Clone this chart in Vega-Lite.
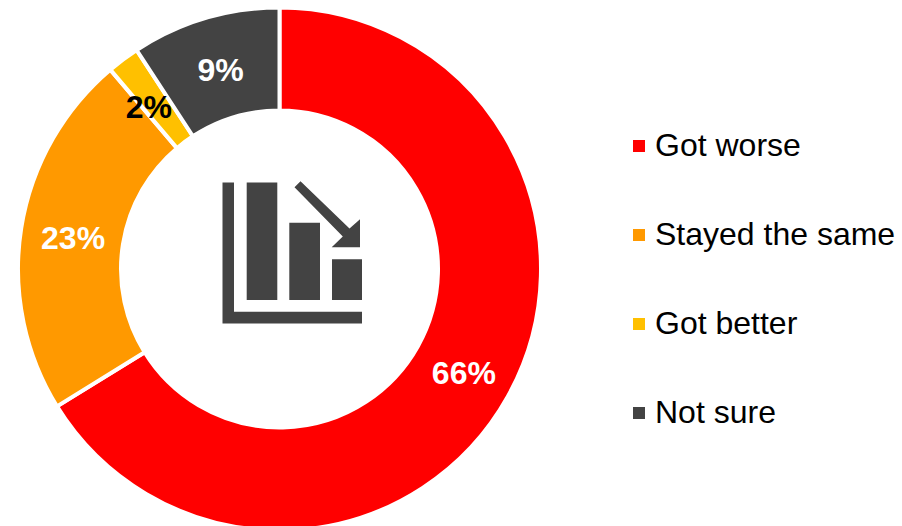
{
  "$schema": "https://vega.github.io/schema/vega-lite/v6.json",
  "width": 559,
  "height": 518,
  "autosize": {"type": "none"},
  "padding": {"left": 0, "top": 10, "right": 343, "bottom": 0},
  "background": "white",
  "config": {"view": {"stroke": null}, "font": "Liberation Sans"},
  "data": {
    "values": [
      {"response": "Got worse", "share": 0.662, "rank": 1},
      {"response": "Stayed the same", "share": 0.226, "rank": 2},
      {"response": "Got better", "share": 0.02, "rank": 3},
      {"response": "Not sure", "share": 0.092, "rank": 4}
    ]
  },
  "layer": [
    {
      "mark": {"type": "arc", "innerRadius": 158.5, "outerRadius": 261.5, "stroke": "white", "strokeWidth": 4},
      "encoding": {
        "theta": {"field": "share", "type": "quantitative", "stack": true},
        "order": {"field": "rank", "type": "quantitative"},
        "color": {
          "field": "response",
          "type": "nominal",
          "scale": {
            "domain": ["Got worse", "Stayed the same", "Got better", "Not sure"],
            "range": ["#ff0000", "#ff9900", "#ffc000", "#434343"]
          },
          "legend": {
            "orient": "none",
            "legendX": 623,
            "legendY": 120,
            "title": null,
            "padding": 0,
            "symbolType": "square",
            "symbolSize": 144,
            "symbolStrokeWidth": 0,
            "labelFontSize": 32,
            "labelColor": "#000000",
            "labelFont": "Liberation Sans",
            "labelOffset": 0,
            "rowPadding": 57,
            "labelLimit": 300
          }
        }
      }
    },
    {
      "mark": {"type": "text", "radius": 210, "dx": 1, "dy": 3, "fontSize": 32, "fontWeight": "bold", "color": "white", "align": "center", "baseline": "middle"},
      "encoding": {
        "theta": {"field": "share", "type": "quantitative", "stack": true},
        "order": {"field": "rank", "type": "quantitative"},
        "text": {
          "condition": {"test": "datum.response === 'Got better'", "value": ""},
          "field": "share",
          "type": "quantitative",
          "format": ".0%"
        }
      }
    },
    {
      "mark": {"type": "text", "radius": 210, "dx": -5, "dy": 7, "fontSize": 32, "fontWeight": "bold", "color": "black", "align": "center", "baseline": "middle"},
      "encoding": {
        "theta": {"field": "share", "type": "quantitative", "stack": true},
        "order": {"field": "rank", "type": "quantitative"},
        "text": {
          "condition": {"test": "datum.response !== 'Got better'", "value": ""},
          "field": "share",
          "type": "quantitative",
          "format": ".0%"
        }
      }
    },
    {
      "data": {"values": [{"icon": "declining bars"}]},
      "mark": {
        "type": "point",
        "filled": true,
        "size": 4,
        "color": "#434343",
        "opacity": 1,
        "strokeWidth": 0,
        "shape": "M-57,-86.5 L-45.5,-86.5 L-45.5,42.7 L82.5,42.7 L82.5,54.5 L-57,54.5 Z M-32.8,-86.5 L-2.2,-86.5 L-2.2,31 L-32.8,31 Z M9.8,-46.3 L40.5,-46.3 L40.5,31 L9.8,31 Z M52.5,-9.7 L82.5,-9.7 L82.5,31 L52.5,31 Z M15,-81.8 L21,-87.8 L70,-40.5 L80.5,-49.7 L80.5,-21.7 L52.2,-21.7 L63.3,-32.5 Z"
      },
      "encoding": {}
    }
  ]
}
